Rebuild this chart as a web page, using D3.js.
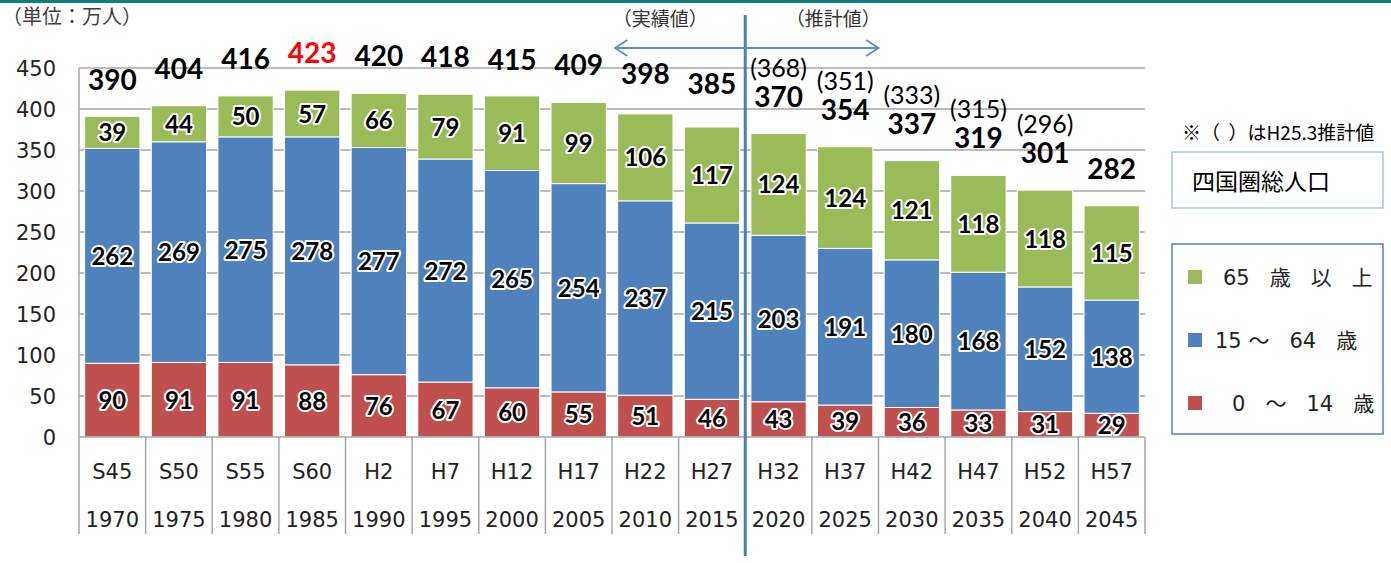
<!DOCTYPE html>
<html>
<head>
<meta charset="utf-8">
<script src="https://cdn.jsdelivr.net/npm/d3@7"></script>
<style>
  body { margin: 0; background: #fff; }
  text { font-family: "DejaVu Sans", "Noto Sans CJK JP", sans-serif; white-space: pre; }
  .jp { font-family: "Noto Sans CJK JP", sans-serif; }
  .num { font-family: Lato, "Open Sans", sans-serif; }
</style>
</head>
<body>
<svg id="chart" width="1391" height="563"></svg>
<script>
// データ（万人）
const wareki = ["S45","S50","S55","S60","H2","H7","H12","H17","H22","H27","H32","H37","H42","H47","H52","H57"];
const years  = ["1970","1975","1980","1985","1990","1995","2000","2005","2010","2015","2020","2025","2030","2035","2040","2045"];
const age0_14  = [90, 91, 91, 88, 76, 67, 60, 55, 51, 46, 43, 39, 36, 33, 31, 29];
const age15_64 = [262, 269, 275, 278, 277, 272, 265, 254, 237, 215, 203, 191, 180, 168, 152, 138];
const age65    = [39, 44, 50, 57, 66, 79, 91, 99, 106, 117, 124, 124, 121, 118, 118, 115];
const totals   = [390, 404, 416, 423, 420, 418, 415, 409, 398, 385, 370, 354, 337, 319, 301, 282];
const h25est   = [null, null, null, null, null, null, null, null, null, null, 368, 351, 333, 315, 296, null];
const yTicks   = [0, 50, 100, 150, 200, 250, 300, 350, 400, 450];
const peakIndex = 3;   // 最大値（赤字）
const splitIndex = 10; // 推計値の開始

const series = [
  {key: "0～14", values: age0_14, color: "#C0504D", legend: "0   ～   14   歳"},
  {key: "15～64", values: age15_64, color: "#4F81BD", legend: "15 ～   64   歳"},
  {key: "65+", values: age65, color: "#9BBB59", legend: "65   歳   以   上"}
];

const rows = wareki.map((w, i) => {
  const r = {cat: w, i: i};
  series.forEach(s => r[s.key] = s.values[i]);
  return r;
});
const stacked = d3.stack().keys(series.map(s => s.key))(rows);

const svg = d3.select("#chart");
const pl = 79, pr = 1145, pt = 68, pb = 437;

const x = d3.scaleBand().domain(wareki).range([pl, pr]);
const bw = x.bandwidth() * 0.83;
const y = d3.scaleLinear().domain([0, 450]).range([pb, pt]);

// 上部の線
svg.append("rect").attr("x", 0).attr("y", 0).attr("width", 1391).attr("height", 3).attr("fill", "#0E7F7A");

// グリッド線
svg.append("g").selectAll("line").data(yTicks.slice(1)).enter().append("line")
  .attr("x1", pl).attr("x2", pr)
  .attr("y1", d => y(d)).attr("y2", d => y(d))
  .attr("stroke", "#A6A6A6").attr("stroke-width", 1.5);

// Y軸ラベル
svg.append("g").selectAll("text").data(yTicks).enter().append("text")
  .attr("x", 56).attr("y", d => y(d) + 8)
  .attr("text-anchor", "end")
  .style("font-size", "21px").attr("fill", "#222")
  .text(d => d);

// 棒グラフ
const layers = svg.append("g").selectAll("g").data(stacked).enter().append("g")
  .attr("fill", (d, i) => series[i].color);
layers.selectAll("rect").data(d => d).enter().append("rect")
  .attr("x", d => x(d.data.cat) + (x.bandwidth() - bw) / 2)
  .attr("width", bw)
  .attr("y", d => y(d[1]))
  .attr("height", d => y(d[0]) - y(d[1]))
  .attr("stroke", "#fff").attr("stroke-width", 1);

// 棒内ラベル（白縁取り）
layers.selectAll("text").data(d => d).enter().append("text")
  .attr("class", "num")
  .attr("x", d => x(d.data.cat) + x.bandwidth() / 2)
  .attr("y", d => (y(d[0]) + y(d[1])) / 2 + 9)
  .attr("text-anchor", "middle")
  .style("font-size", "24px").style("font-weight", "bold")
  .attr("fill", "#000").attr("stroke", "#fff").attr("stroke-width", 4)
  .attr("stroke-linejoin", "round").style("paint-order", "stroke")
  .text(d => d[1] - d[0]);

// 軸線
svg.append("line").attr("x1", pl).attr("x2", pr).attr("y1", pb).attr("y2", pb)
  .attr("stroke", "#A6A6A6").attr("stroke-width", 1.5);
svg.append("line").attr("x1", pl).attr("x2", pl).attr("y1", pt).attr("y2", 534)
  .attr("stroke", "#A6A6A6").attr("stroke-width", 1.5);
svg.append("g").selectAll("line").data(wareki).enter().append("line")
  .attr("x1", d => x(d) + x.bandwidth()).attr("x2", d => x(d) + x.bandwidth())
  .attr("y1", pb).attr("y2", 534)
  .attr("stroke", "#A6A6A6").attr("stroke-width", 1.5);

// X軸ラベル
const xl = svg.append("g");
xl.selectAll(".w").data(wareki).enter().append("text")
  .attr("x", d => x(d) + x.bandwidth() / 2).attr("y", 479)
  .attr("text-anchor", "middle").style("font-size", "21px").attr("fill", "#222")
  .text(d => d);
xl.selectAll(".y").data(years).enter().append("text")
  .attr("x", (d, i) => x(wareki[i]) + x.bandwidth() / 2).attr("y", 527)
  .attr("text-anchor", "middle").style("font-size", "21px").attr("fill", "#222")
  .text(d => d);

// 合計ラベル
svg.append("g").selectAll("text").data(totals).enter().append("text")
  .attr("class", "num")
  .attr("x", (d, i) => x(wareki[i]) + x.bandwidth() / 2)
  .attr("y", d => y(d) - 27)
  .attr("text-anchor", "middle")
  .style("font-size", "28px").style("font-weight", "bold")
  .attr("fill", (d, i) => i === peakIndex ? "#FF0000" : "#000")
  .text(d => d);

// H25.3推計値
svg.append("g").selectAll("text").data(h25est.map((v, i) => ({v, i})).filter(d => d.v !== null))
  .enter().append("text")
  .attr("class", "num")
  .attr("x", d => x(wareki[d.i]) + x.bandwidth() / 2)
  .attr("y", d => y(totals[d.i]) - 57)
  .attr("text-anchor", "middle")
  .style("font-size", "25px")
  .attr("fill", "#000")
  .text(d => "(" + d.v + ")");

// 実績値／推計値の区切り線
const splitX = x(wareki[splitIndex]);
svg.append("line").attr("x1", splitX).attr("x2", splitX).attr("y1", 15).attr("y2", 556)
  .attr("stroke", "#4A7EBB").attr("stroke-width", 3);

const ax1 = splitX - 130, ax2 = splitX + 133, ay = 48;
const arrow = svg.append("g").attr("stroke", "#5B8FCC").attr("stroke-width", 2).attr("fill", "none");
arrow.append("line").attr("x1", ax1).attr("x2", ax2).attr("y1", ay).attr("y2", ay);
arrow.append("path").attr("d", `M${ax1 + 12},${ay - 8}L${ax1},${ay}L${ax1 + 12},${ay + 8}`);
arrow.append("path").attr("d", `M${ax2 - 12},${ay - 8}L${ax2},${ay}L${ax2 - 12},${ay + 8}`);

svg.append("text").attr("class", "jp").attr("x", splitX - 85).attr("y", 26).attr("text-anchor", "middle")
  .style("font-size", "19px").attr("fill", "#333").text("（実績値）");
svg.append("text").attr("class", "jp").attr("x", splitX + 88).attr("y", 26).attr("text-anchor", "middle")
  .style("font-size", "19px").attr("fill", "#333").text("（推計値）");

// 単位
svg.append("text").attr("class", "jp").attr("x", 2).attr("y", 24).style("font-size", "20px").attr("fill", "#404040")
  .text("（単位：万人）");

// 注記と凡例
svg.append("text").attr("class", "jp").attr("x", 1182).attr("y", 140).style("font-size", "19px").attr("fill", "#000")
  .text("※（  ）はH25.3推計値");

svg.append("rect").attr("x", 1172).attr("y", 152).attr("width", 211).attr("height", 56)
  .attr("fill", "#fff").attr("stroke", "#A9C4E8").attr("stroke-width", 1.5);
svg.append("text").attr("class", "jp").attr("x", 1192).attr("y", 190).style("font-size", "23px").attr("fill", "#000")
  .text("四国圏総人口");

svg.append("rect").attr("x", 1172).attr("y", 244).attr("width", 211).attr("height", 190)
  .attr("fill", "#fff").attr("stroke", "#4F81BD").attr("stroke-width", 1.5);

const legendItems = series.slice().reverse();
const lg = svg.append("g").selectAll("g").data(legendItems).enter().append("g")
  .attr("transform", (d, i) => `translate(1188, ${277 + i * 63})`);
lg.append("rect").attr("x", 0).attr("y", -7).attr("width", 14).attr("height", 14)
  .attr("fill", d => d.color);
lg.append("text").attr("x", (d, i) => [35, 27, 44][i]).attr("y", 8)
  .style("font-size", "21px").attr("fill", "#222")
  .text(d => d.legend);
</script>
</body>
</html>
